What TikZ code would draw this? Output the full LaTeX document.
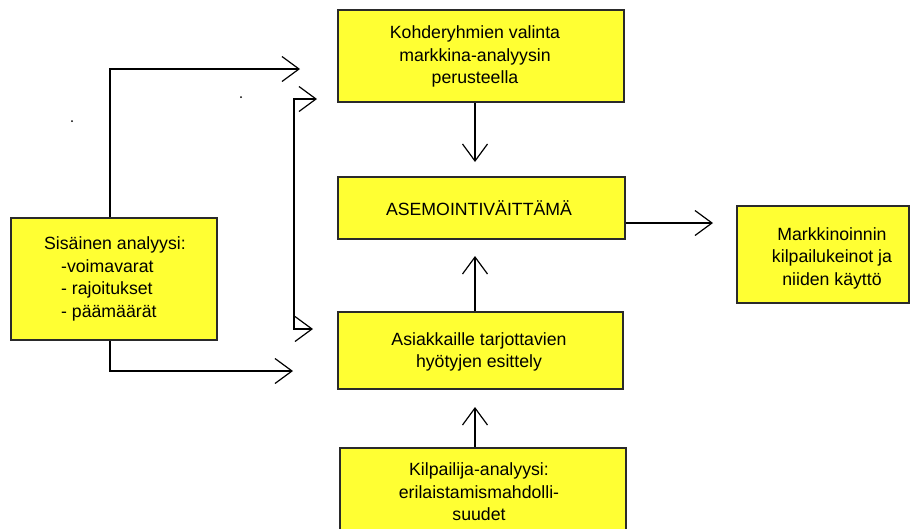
\documentclass[tikz,border=0pt]{standalone}
\usepackage{fontspec}
\setmainfont{Liberation Sans}
\usetikzlibrary{arrows.meta}

\definecolor{boxyellow}{HTML}{FFFF33}
\definecolor{boxedge}{HTML}{2A2A2A}

\begin{document}
\begin{tikzpicture}[x=1pt,y=-1pt,
  box/.style={draw=boxedge, line width=1.6pt, fill=boxyellow, inner sep=0pt},
  label text/.style={inner sep=0pt, align=center, font=\fontsize{17.7}{22.5}\selectfont},
  flow/.style={line width=1.2pt, -{Straight Barb[length=17pt,width=25pt,line width=1.2pt]}},
  both flow/.style={line width=1.2pt, {Straight Barb[length=17pt,width=25pt,line width=1.2pt]}-{Straight Barb[length=17pt,width=25pt,line width=1.2pt]}},
  speck/.style={fill=black, draw=none}]

\clip (0,0) rectangle (911,528);
\fill[white] (0,0) rectangle (911,528);

% boxes
\node[box, minimum width=286pt, minimum height=92pt] (kohde) at (481,56) {};
\node[box, minimum width=287pt, minimum height=62pt] (asem) at (481.5,208) {};
\node[box, minimum width=172pt, minimum height=97pt] (markk) at (823,254.5) {};
\node[box, minimum width=285pt, minimum height=77pt] (asiak) at (480.5,350.5) {};
\node[box, minimum width=286pt, minimum height=110pt] (kilp) at (483,503) {};
\node[box, minimum width=206pt, minimum height=122pt] (sis) at (114,279) {};

% texts
\node[label text] (kohdeT) at (475,56.5) {Kohderyhmien valinta\\markkina-analyysin\\perusteella};
\node[label text] (asemT) at (479,208) {ASEMOINTIVÄITTÄMÄ};
\node[label text] (markkT) at (832,258) {Markkinoinnin\\kilpailukeinot ja\\niiden käyttö};
\node[label text] (asiakT) at (479,352) {Asiakkaille tarjottavien\\hyötyjen esittely};
\node[label text] (kilpT) at (479,492) {Kilpailija-analyysi:\\erilaistamismahdolli-\\suudet};
\node[label text, align=left] (sisT) at (115,279) {Sisäinen analyysi:\\\hspace*{17pt}-voimavarat\\\hspace*{17pt}- rajoitukset\\\hspace*{17pt}- päämäärät};

% connector end points
\coordinate (kohdeTip) at (475,162);
\coordinate (asiakTip) at (475,256);
\coordinate (kilpTip) at (475,407);
\coordinate (asemTip) at (713,223);
\coordinate (sisUpTurn) at (110,69);
\coordinate (sisUpTip) at (300,69);
\coordinate (sisDownTurn) at (110,371);
\coordinate (sisDownTip) at (293,371);
\coordinate (brTopTip) at (317,99);
\coordinate (brTop) at (294,99);
\coordinate (brBot) at (294,329);
\coordinate (brBotTip) at (313,329);

% connectors
\draw[flow] (kohde.south -| kohdeTip) -- (kohdeTip);
\draw[flow] (asiak.north -| asiakTip) -- (asiakTip);
\draw[flow] (kilp.north -| kilpTip) -- (kilpTip);
\draw[flow] (asem.east |- asemTip) -- (asemTip);
\draw[flow] (sis.north -| sisUpTurn) -- (sisUpTurn) -- (sisUpTip);
\draw[flow] (sis.south -| sisDownTurn) -- (sisDownTurn) -- (sisDownTip);
\draw[both flow] (brTopTip) -- (brTop) -- (brBot) -- (brBotTip);

% two small specks
\fill[speck] (241,97) circle (1pt);
\fill[speck] (72,121) circle (1pt);
\end{tikzpicture}
\end{document}
